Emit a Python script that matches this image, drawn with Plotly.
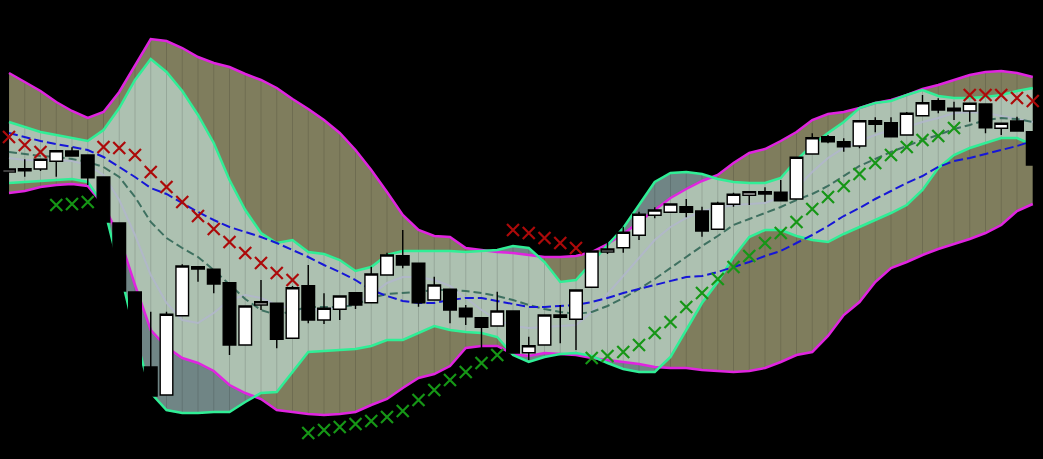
import plotly.graph_objects as go

# ---- data (price units) ----
IDX = list(range(66))

OPEN = [287,288.3,290,297.7,308,304,282,236,167,92,
        64,143.3,192.3,189.7,176.3,114,154,155.7,120.7,173.3,
        139,149.7,166.3,156.3,184,203.3,195.7,159,169.7,150.7,
        141.3,133,148,106.3,114,144,139.7,171.7,207,211.3,
        223.7,243.7,246.7,252.3,248,229.7,254.7,263.7,267.3,266.7,
        260,305,322.3,317.3,313,338.3,336.3,324,343.3,358.3,
        350.7,348,355,330.7,338,327.3]
HIGH = [290.3,299.7,300,308.7,311.7,304.3,282.3,236.3,167.3,147.3,
        147.3,194.7,192.5,190,176.5,153.5,179,156,173,194,
        165.7,163.5,166.5,192.3,206.3,229,196,182.3,170,154,
        141.5,167.3,148.3,122.3,144.5,154,169.5,208.5,217.3,232.3,
        247.3,251.7,255.3,260,252.3,257.3,266.3,267.5,271.7,279,
        302,325.7,324,320.7,338.5,341.7,341.7,347,364,360.7,
        357.3,356,355.5,336,342.3,327.5]
LOW = [286.7,282.3,288,282.3,302.5,274,236.5,167.5,92,62,
       63.7,143,177.3,165.7,104,113.5,149,110.7,120.5,135.7,
       135,139,150,156,183.5,190.7,152.3,158.5,135.7,134,
       110.7,132.5,105.5,99,113.5,115.7,109,171.5,205,206.3,
       219,240.7,246.5,241.7,222.3,229.5,252.3,254,257.3,258,
       259.5,304.5,315.7,307.3,310.7,326.7,322,323.5,343,345.7,
       339,337.3,325.7,324,327.5,293.5]
CLOSE = [290,290.3,299.7,308.3,303,281.3,237,168,93,63,
         144.7,193,190,175,114,153,157.3,119.7,171.3,139,
         150.7,163,154,185,204,194,156.3,174,149,142.3,
         131.7,148,106,113.3,144,141.7,169,208,210,226.7,
         244.7,249,255,246.7,228,255.7,264.7,267.3,265,258.3,
         301.7,321.3,317.3,312.3,338.3,334.7,322.3,345.7,356.3,349,
         348.3,355.7,331.3,335.7,328,294]

OUTER_UP = [386,377,368,357,348,341,347,367,394,420,
            418,411,402,396,392,385,379,371,360,350,
            339,326,309,289,267,244,229,223,222,211,
            209,207,206,204,202,202,203,207,215,225,
            237,249,261,270,278,284,296,306,310,318,
            327,339,345,347,351,356,359,364,370,374,
            379,384,387,388,386,382]
OUTER_LO = [266,268,272,274,275,273,254,222,174,129,
            112,101,96,88,74,66,60,49,47,45,
            44,45,47,54,60,71,81,85,93,111,
            113,113,105,103,106,105,104,101,99,97,
            95,92,91,91,89,88,87,88,91,97,
            104,107,123,144,157,177,191,197,204,210,
            215,220,226,234,248,255]
INNER_UP = [337,332,327,324,321,318,329,351,379,400,
            387,368,344,316,279,249,226,216,219,207,
            205,199,188,192,204,208,208,208,208,207,
            208,209,213,211,197,177,179,197,214,231,
            254,277,286,287,285,280,277,276,276,281,
            299,314,326,337,351,356,358,364,369,363,
            361,361,362,364,368,371]
INNER_LO = [276,277,278,279,280,277,254,191,125,66,
            49,46,46,47,47,57,66,67,87,107,
            108,109,110,113,119,119,126,133,129,127,
            126,122,104,97,102,105,106,103,96,90,
            87,87,102,129,156,177,202,222,229,229,
            223,219,217,225,232,239,246,254,269,291,
            304,311,316,321,321,314]

MA_SLOW = [326,322,318,315,312,309,302,292,282,271,
           265,256,247,239,232,227,222,216,209,202,
           194,187,179,169,163,158,156,156,159,161,
           161,158,155,152,152,153,154,157,161,166,
           170,174,178,182,183,187,192,197,203,208,
           216,224,233,243,251,260,268,276,283,292,
           298,301,305,309,313,318]
MA_MID = [307,305,303,302,300,297,292,282,262,237,
          221,211,202,189,175,160,149,144,148,152,
          152,152,154,161,165,166,167,169,169,168,
          166,163,159,154,150,147,145,147,153,161,
          170,180,191,202,213,223,234,240,246,252,
          259,265,273,283,293,300,307,313,319,324,
          330,334,339,341,340,337]
MA_FAST = [301,299,299,299,298,294,284,259,224,184,
           156,139,136,146,159,164,161,154,150,149,
           150,152,156,164,176,182,182,179,173,161,
           149,139,133,131,132,133,134,147,165,184,
           202,219,232,241,248,251,254,255,256,262,
           271,287,301,311,318,324,329,332,337,341,
           346,347,346,343,340,337]

N = None
SAR_ABOVE = [322,314,307,N,N,N,312,311,304,287,
             272,257,243,230,217,206,196,186,179,N,
             N,N,N,N,N,N,N,N,N,N,
             N,N,229,226,221,216,211,N,N,N,
             N,N,N,N,N,N,N,N,N,N,
             N,N,N,N,N,N,N,N,N,N,
             N,364,364,364,361,358]
SAR_BELOW = [N,N,N,254,255,257,N,N,N,N,
             N,N,N,N,N,N,N,N,N,26,
             29,32,35,38,42,48,59,69,79,87,
             96,104,N,N,N,N,N,101,103,107,
             114,126,137,152,166,180,192,203,216,226,
             237,250,262,273,285,296,304,312,319,323,
             331,N,N,N,N,N]

# ---- styles ----
BG = "black"
OLIVE = "rgb(127,125,93)"
INNER_FILL = "rgba(215,255,255,0.52)"
MAGENTA = "rgb(224,36,224)"
SPRING = "rgb(48,238,150)"
BLUE = "rgb(22,22,215)"
TEAL = "rgb(62,112,96)"
LAV = "rgba(178,182,205,0.85)"
RED = "rgb(172,10,10)"
GREEN = "rgb(22,150,22)"

fig = go.Figure()

# outer band fill
fig.add_trace(go.Scatter(x=IDX, y=OUTER_LO, mode="lines", line=dict(width=0),
                         hoverinfo="skip", showlegend=False))
fig.add_trace(go.Scatter(x=IDX, y=OUTER_UP, mode="lines", line=dict(width=0),
                         fill="tonexty", fillcolor=OLIVE, hoverinfo="skip", showlegend=False))
# inner band fill
fig.add_trace(go.Scatter(x=IDX, y=INNER_LO, mode="lines", line=dict(width=0),
                         hoverinfo="skip", showlegend=False))
fig.add_trace(go.Scatter(x=IDX, y=INNER_UP, mode="lines", line=dict(width=0),
                         fill="tonexty", fillcolor=INNER_FILL, hoverinfo="skip", showlegend=False))

# faint vertical seams across the filled bands
sx, sy = [], []
for i in IDX:
    lo = min(OUTER_LO[i], INNER_LO[i])
    hi = max(OUTER_UP[i], INNER_UP[i])
    sx += [i, i, None]
    sy += [lo, hi, None]
fig.add_trace(go.Scatter(x=sx, y=sy, mode="lines", line=dict(color="rgba(0,0,0,0.13)", width=1),
                         hoverinfo="skip", showlegend=False))

# band lines
for arr, col in [(OUTER_UP, MAGENTA), (OUTER_LO, MAGENTA), (INNER_UP, SPRING), (INNER_LO, SPRING)]:
    fig.add_trace(go.Scatter(x=IDX, y=arr, mode="lines", line=dict(color=col, width=2.5),
                             hoverinfo="skip", showlegend=False))

# moving averages
fig.add_trace(go.Scatter(x=IDX, y=MA_FAST, mode="lines", line=dict(color=LAV, width=2),
                         hoverinfo="skip", showlegend=False))
fig.add_trace(go.Scatter(x=IDX, y=MA_MID, mode="lines", line=dict(color=TEAL, width=2, dash="8px,4px"),
                         hoverinfo="skip", showlegend=False))
fig.add_trace(go.Scatter(x=IDX, y=MA_SLOW, mode="lines", line=dict(color=BLUE, width=2, dash="9px,4px"),
                         hoverinfo="skip", showlegend=False))

# candles on overlay axes (drawn above the bands)
fig.add_trace(go.Candlestick(
    x=IDX, open=OPEN, high=HIGH, low=LOW, close=CLOSE,
    xaxis="x2", yaxis="y2",
    increasing=dict(fillcolor="white", line=dict(color="black", width=1.4)),
    decreasing=dict(fillcolor="black", line=dict(color="black", width=1.4)),
    whiskerwidth=0, showlegend=False, hoverinfo="skip"))

# parabolic SAR markers
fig.add_trace(go.Scatter(x=IDX, y=SAR_ABOVE, mode="markers", xaxis="x2", yaxis="y2",
                         marker=dict(symbol="x-thin", size=12, line=dict(color=RED, width=2.2)),
                         hoverinfo="skip", showlegend=False))
fig.add_trace(go.Scatter(x=IDX, y=SAR_BELOW, mode="markers", xaxis="x2", yaxis="y2",
                         marker=dict(symbol="x-thin", size=12, line=dict(color=GREEN, width=2.2)),
                         hoverinfo="skip", showlegend=False))

XR = [-0.5714, 65.651]
YR = [0, 459]
fig.update_layout(
    width=1043, height=459,
    margin=dict(l=0, r=0, t=0, b=0),
    paper_bgcolor=BG, plot_bgcolor=BG,
    boxgap=0.2, boxgroupgap=0,
    xaxis=dict(range=XR, visible=False, showgrid=False, zeroline=False,
               rangeslider=dict(visible=False)),
    yaxis=dict(range=YR, visible=False, showgrid=False, zeroline=False),
    xaxis2=dict(range=XR, overlaying="x", anchor="y2", visible=False, showgrid=False,
                zeroline=False, rangeslider=dict(visible=False)),
    yaxis2=dict(range=YR, overlaying="y", anchor="x2", visible=False, showgrid=False,
                zeroline=False),
    showlegend=False,
)

fig.write_html("out.html", config={"displayModeBar": False},
               post_script="document.body.style.margin='0';document.body.style.background='black';")
